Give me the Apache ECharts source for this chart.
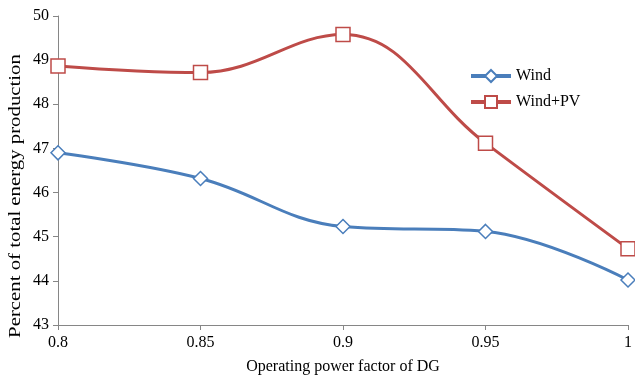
<!DOCTYPE html>
<html><head><meta charset="utf-8">
<script src="https://cdn.jsdelivr.net/npm/echarts@6/dist/echarts.min.js"></script>
<style>html,body{margin:0;padding:0;background:#fff}#c{width:635px;height:380px}</style>
</head><body><div id="c"></div>
<script>
const categories = ['0.8','0.85','0.9','0.95','1'];
const windValues = [46.9, 46.32, 45.23, 45.12, 44.02];
const windPvValues = [48.87, 48.72, 49.58, 47.12, 44.73];
const yTicks = {min: 43, max: 50, interval: 1};
const yTitle = 'Percent of total energy production';
const xTitle = 'Operating power factor of DG';

const font = 'Liberation Serif';
const chart = echarts.init(document.getElementById('c'));
chart.setOption({
  animation: false,
  grid: {left: 58, right: 2, top: 16, bottom: 55},
  legend: {
    orient: 'vertical', left: 464, top: 63, itemGap: 10, itemWidth: 40, itemHeight: 15,
    textStyle: {fontFamily: font, fontSize: 16, color: '#000'},
    lineStyle: {width: 4},
    data: ['Wind', 'Wind+PV']
  },
  graphic: [{
    type: 'text', x: 16, y: 196, rotation: Math.PI / 2, scaleX: 1.3, scaleY: 1,
    style: {text: yTitle, fontFamily: font, fontSize: 16, fill: '#000', align: 'center', verticalAlign: 'middle'}
  }],
  xAxis: {
    type: 'category', data: categories, boundaryGap: false,
    name: xTitle, nameLocation: 'middle', nameGap: 34,
    nameTextStyle: {fontFamily: font, fontSize: 16, color: '#000'},
    axisLine: {lineStyle: {color: '#868686', width: 1}},
    axisTick: {show: true, length: 5, lineStyle: {color: '#868686'}},
    axisLabel: {fontFamily: font, fontSize: 16, color: '#000', margin: 10},
    splitLine: {show: false}
  },
  yAxis: {
    type: 'value', min: yTicks.min, max: yTicks.max, interval: yTicks.interval,
    axisLine: {show: true, lineStyle: {color: '#868686', width: 1}},
    axisTick: {show: true, length: 5, lineStyle: {color: '#868686'}},
    axisLabel: {fontFamily: font, fontSize: 16, color: '#000', margin: 9},
    splitLine: {show: false}
  },
  series: [
    {
      name: 'Wind', type: 'line', data: windValues, smooth: 0.4,
      symbol: 'diamond', symbolSize: 14,
      lineStyle: {color: '#4A7EBB', width: 3},
      itemStyle: {color: '#fff', borderColor: '#4A7EBB', borderWidth: 1.5}
    },
    {
      name: 'Wind+PV', type: 'line', data: windPvValues, smooth: 0.4,
      symbol: 'rect', symbolSize: 14,
      lineStyle: {color: '#BE4B48', width: 3},
      itemStyle: {color: '#fff', borderColor: '#BE4B48', borderWidth: 1.5}
    }
  ]
});
</script></body></html>
